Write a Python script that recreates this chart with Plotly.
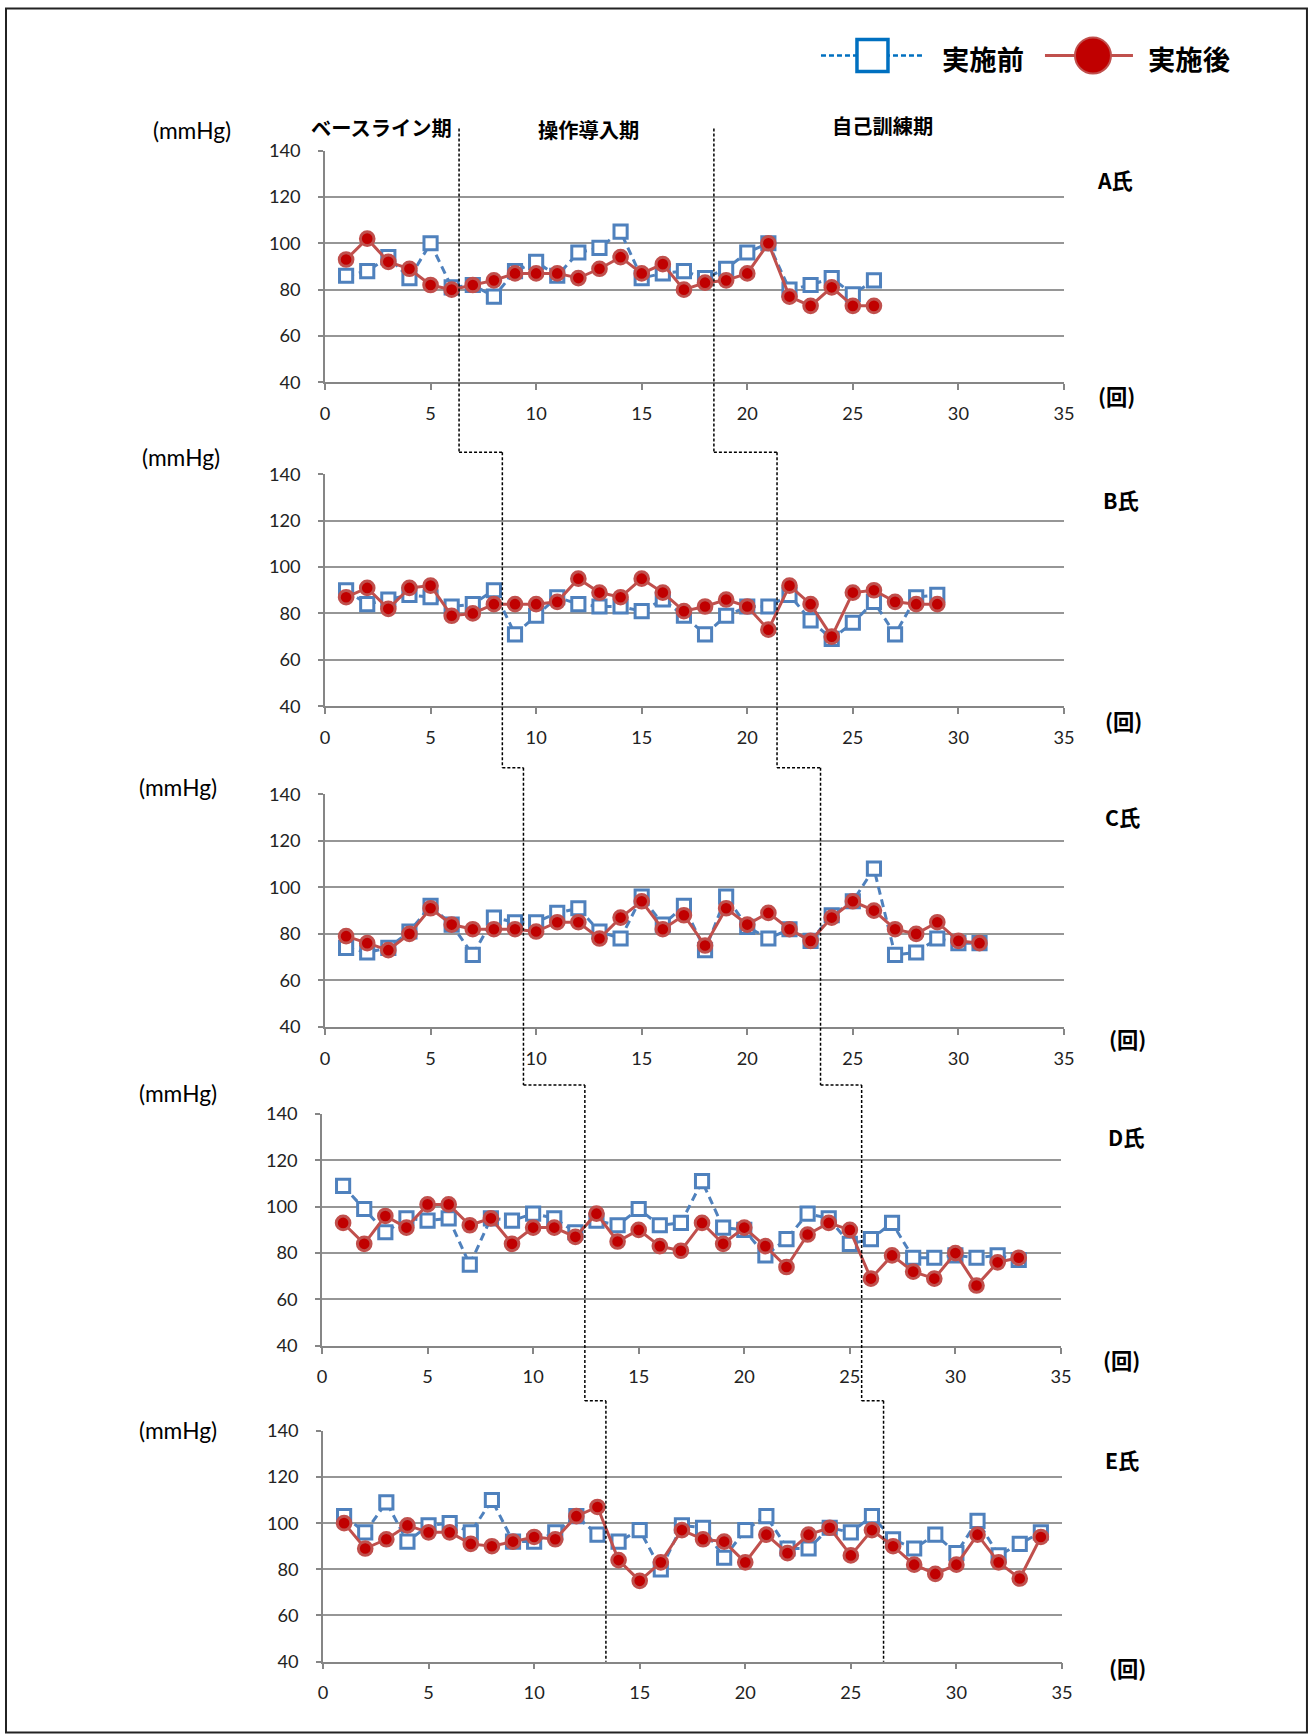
import plotly.graph_objects as go

# Calibration of this renderer: photographed position = S * figure_px + (OX, OY)
S, OX, OY = 0.988, 4.0, 11.4
W, H = 1330, 1750

panel_names = ["A氏", "B氏", "C氏", "D氏", "E氏"]
x_ticks = [0, 5, 10, 15, 20, 25, 30, 35]
y_ticks = [40, 60, 80, 100, 120, 140]
phase_labels = ["ベースライン期", "操作導入期", "自己訓練期"]
legend_labels = ["実施前", "実施後"]

A_before = [86, 88, 94, 85, 100, 81, 82, 77, 88, 92, 86, 96, 98, 105, 85, 87, 88, 85, 89, 96, 100, 80, 82, 85, 78, 84]
A_after = [93, 102, 92, 89, 82, 80, 82, 84, 87, 87, 87, 85, 89, 94, 87, 91, 80, 83, 84, 87, 100, 77, 73, 81, 73, 73]
B_before = [90, 84, 86, 88, 87, 83, 84, 90, 71, 79, 87, 84, 83, 83, 81, 86, 79, 71, 79, 83, 83, 88, 77, 69, 76, 85, 71, 87, 88]
B_after = [87, 91, 82, 91, 92, 79, 80, 84, 84, 84, 85, 95, 89, 87, 95, 89, 81, 83, 86, 83, 73, 92, 84, 70, 89, 90, 85, 84, 84]
C_before = [74, 72, 74, 81, 92, 84, 71, 87, 85, 85, 89, 91, 81, 78, 96, 84, 92, 73, 96, 83, 78, 82, 77, 88, 94, 108, 71, 72, 78, 76, 76]
C_after = [79, 76, 73, 80, 91, 84, 82, 82, 82, 81, 85, 85, 78, 87, 94, 82, 88, 75, 91, 84, 89, 82, 77, 87, 94, 90, 82, 80, 85, 77, 76]
D_before = [109, 99, 89, 95, 94, 95, 75, 95, 94, 97, 95, 89, 94, 92, 99, 92, 93, 111, 91, 90, 79, 86, 97, 95, 84, 86, 93, 78, 78, 79, 78, 79, 77]
D_after = [93, 84, 96, 91, 101, 101, 92, 95, 84, 91, 91, 87, 97, 85, 90, 83, 81, 93, 84, 91, 83, 74, 88, 93, 90, 69, 79, 72, 69, 80, 66, 76, 78]
E_before = [103, 96, 109, 92, 99, 100, 96, 110, 92, 92, 96, 103, 95, 92, 97, 80, 99, 98, 85, 97, 103, 89, 89, 98, 96, 103, 93, 89, 95, 87, 101, 86, 91, 96]
E_after = [100, 89, 93, 99, 96, 96, 91, 90, 92, 94, 93, 103, 107, 84, 75, 83, 97, 93, 92, 83, 95, 87, 95, 98, 86, 97, 90, 82, 78, 82, 95, 83, 76, 94]

before = [A_before, B_before, C_before, D_before, E_before]
after = [A_after, B_after, C_after, D_after, E_after]

# phase boundaries (session position) per panel
bound1 = [6.35, 8.4, 9.4, 12.45, 13.4]
bound2 = [18.42, 21.41, 23.47, 25.56, 26.55]

# target layout in photographed pixels
px_x = [(324, 1063), (324, 1063), (324, 1063), (321, 1060), (322, 1061)]
px_y = [(150, 382), (474, 706), (794, 1027), (1114, 1346), (1431, 1662)]
connector_y = [452, 767.5, 1085, 1401]

BLUE = "#4f81bd"
RED_LINE = "#c0504d"
RED_FILL = "#c00000"
GRID = "#969696"
NUMFONT = "Lato, 'Noto Sans', sans-serif"
JPFONT = "'Noto Sans CJK JP', sans-serif"
K = 1 / S


def px(x):
    return ((x - OX) / S) / W


def py(y):
    return 1 - ((y - OY) / S) / H


def data_to_px(i, xv):
    x0, x1 = px_x[i]
    return x0 + xv / 35 * (x1 - x0)


fig = go.Figure()
layout = dict(
    width=W, height=H, margin=dict(l=0, r=0, t=0, b=0),
    paper_bgcolor="white", plot_bgcolor="white", showlegend=False,
    hovermode=False,
)

for i in range(5):
    sfx = "" if i == 0 else str(i + 1)
    xa, ya = "x" + sfx, "y" + sfx
    sess_b = list(range(1, len(before[i]) + 1))
    sess_a = list(range(1, len(after[i]) + 1))
    fig.add_trace(go.Scatter(
        x=sess_b, y=before[i], xaxis=xa, yaxis=ya, mode="lines+markers",
        line=dict(color=BLUE, width=3, dash="8px,5px"),
        marker=dict(symbol="square", size=13 * K, color="white",
                    line=dict(color=BLUE, width=3)),
        name=legend_labels[0], cliponaxis=False))
    fig.add_trace(go.Scatter(
        x=sess_a, y=after[i], xaxis=xa, yaxis=ya, mode="lines+markers",
        line=dict(color=RED_LINE, width=3),
        marker=dict(symbol="circle", size=13.5 * K, color=RED_FILL,
                    line=dict(color=RED_LINE, width=3)),
        name=legend_labels[1], cliponaxis=False))
    layout["xaxis" + sfx] = dict(
        domain=[px(px_x[i][0]), px(px_x[i][1])], range=[0, 35],
        tickvals=x_ticks, ticks="outside", ticklen=6, tickwidth=1.5,
        tickcolor="#868686", showline=True, linecolor="#868686", linewidth=1.5,
        showgrid=False, zeroline=False, anchor=ya, ticklabelstandoff=8,
        tickfont=dict(family=NUMFONT, size=18 * K, color="#222"), fixedrange=True)
    layout["yaxis" + sfx] = dict(
        domain=[py(px_y[i][1]), py(px_y[i][0])], range=[40, 140],
        tickvals=y_ticks, ticks="outside", ticklen=5, tickwidth=1.5,
        tickcolor="#868686", showline=True, linecolor="#868686", linewidth=1.5,
        showgrid=True, gridcolor=GRID, gridwidth=1.5, zeroline=False,
        anchor=xa, ticklabelstandoff=14,
        tickfont=dict(family=NUMFONT, size=18 * K, color="#222"), fixedrange=True)

fig.update_layout(**layout)

shapes = []
# outer frame
shapes.append(dict(type="rect", xref="paper", yref="paper",
                   x0=px(5), x1=px(1306), y0=py(1733), y1=py(8),
                   line=dict(color="#222", width=2)))

# phase boundary dashed step lines
dash = dict(color="black", width=1.5, dash="3px,2px")
for bounds in (bound1, bound2):
    top = 128
    for i in range(5):
        xpx = data_to_px(i, bounds[i])
        bottom = connector_y[i] if i < 4 else px_y[4][1]
        shapes.append(dict(type="line", xref="paper", yref="paper",
                           x0=px(xpx), x1=px(xpx), y0=py(top), y1=py(bottom),
                           line=dash))
        if i < 4:
            xnext = data_to_px(i + 1, bounds[i + 1])
            shapes.append(dict(type="line", xref="paper", yref="paper",
                               x0=px(xpx), x1=px(xnext), y0=py(bottom), y1=py(bottom),
                               line=dash))
            top = bottom

# legend glyphs
shapes.append(dict(type="line", xref="paper", yref="paper",
                   x0=px(820), x1=px(921), y0=py(55), y1=py(55),
                   line=dict(color="#0070c0", width=2.5, dash="5px,3px")))
shapes.append(dict(type="rect", xref="paper", yref="paper",
                   x0=px(856), x1=px(887), y0=py(71), y1=py(39),
                   fillcolor="white", line=dict(color="#0070c0", width=3.5)))
shapes.append(dict(type="line", xref="paper", yref="paper",
                   x0=px(1044), x1=px(1132), y0=py(55), y1=py(55),
                   line=dict(color=RED_LINE, width=3)))
shapes.append(dict(type="circle", xref="paper", yref="paper",
                   x0=px(1074), x1=px(1110), y0=py(73), y1=py(37),
                   fillcolor=RED_FILL, line=dict(color=RED_LINE, width=2)))

ann = []


def text(x, y, s, size, family, bold=False):
    ann.append(dict(x=px(x), y=py(y), xref="paper", yref="paper",
                    text=("<b>%s</b>" % s) if bold else s, showarrow=False,
                    xanchor="center", yanchor="middle",
                    font=dict(family=family, size=size * K, color="black")))


text(982, 57, legend_labels[0], 27, JPFONT, True)
text(1188, 57, legend_labels[1], 27, JPFONT, True)

phase_pos = [(381, 127), (588, 129), (882, 125)]
for (x, y), s in zip(phase_pos, phase_labels):
    text(x, y, s, 20, JPFONT, True)

mm_pos = [(191, 130), (180, 457), (177, 787), (177, 1094), (177, 1431)]
kai_pos = [(1116, 395), (1123, 720), (1127, 1038), (1121, 1360), (1127, 1668)]
name_pos = [(1114, 179), (1120, 499), (1122, 816), (1125, 1137), (1121, 1460)]
for i in range(5):
    text(mm_pos[i][0], mm_pos[i][1], "(mmHg)", 22.5, NUMFONT)
    text(kai_pos[i][0], kai_pos[i][1], "(回)", 21, JPFONT, True)
    text(name_pos[i][0], name_pos[i][1], panel_names[i], 21, JPFONT, True)

fig.update_layout(shapes=shapes, annotations=ann)
fig.write_html("out.html")
